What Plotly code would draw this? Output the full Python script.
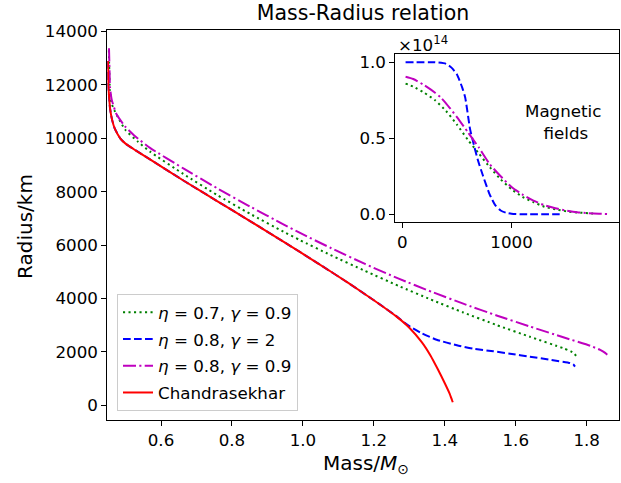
import plotly.graph_objects as go

W, H = 621, 483
OFF = 0  # body margin is removed by the post script

# ---- main chart data: mass (M_sun) vs radius (km) ----
green_mass = [0.453, 0.456, 0.461, 0.470, 0.4985, 0.536, 0.569, 0.663, 0.757, 0.851, 0.945,
              0.992, 1.077, 1.175, 1.27, 1.36, 1.452, 1.546, 1.640, 1.734, 1.755, 1.765, 1.772]
green_radius = [13300, 11800, 11300, 11010, 10330, 9860, 9500, 8663, 7883, 7169, 6500,
                6180, 5630, 5030, 4465, 3960, 3470, 3000, 2560, 2130, 2015, 1930, 1800]

blue_mass = [0.4505, 0.4515, 0.454, 0.4565, 0.462, 0.470, 0.485, 0.500, 0.527, 0.569, 0.663, 0.757,
             0.851, 0.945, 1.040, 1.130, 1.200, 1.230, 1.265, 1.285, 1.302, 1.335, 1.377, 1.434,
             1.480, 1.537, 1.584, 1.640, 1.697, 1.753, 1.762, 1.767]
blue_radius = [12900, 11950, 11500, 11100, 10700, 10350, 10000, 9800, 9560, 9209, 8419, 7658,
               6897, 6126, 5333, 4559, 3929, 3650, 3315, 3100, 2940, 2690, 2450, 2240,
               2116, 2016, 1925, 1815, 1700, 1575, 1530, 1440]

magenta_mass = [0.4534, 0.455, 0.456, 0.461, 0.475, 0.4985, 0.527, 0.569, 0.663, 0.757, 0.851, 0.945,
                0.992, 1.08, 1.175, 1.27, 1.363, 1.452, 1.546, 1.640, 1.734, 1.810, 1.838, 1.852, 1.858]
magenta_radius = [13375, 12500, 11945, 11450, 10890, 10450, 10078, 9642, 8871, 8138, 7442, 6775,
                  6451, 5879, 5290, 4739, 4246, 3801, 3359, 2945, 2541, 2222, 2068, 1956, 1884]

red_mass = [0.4505, 0.4515, 0.454, 0.4565, 0.462, 0.470, 0.485, 0.500, 0.527, 0.569, 0.663, 0.757,
            0.851, 0.945, 1.040, 1.130, 1.200, 1.264, 1.300, 1.335, 1.360, 1.380, 1.400, 1.413,
            1.420, 1.4225]
red_radius = [12900, 11950, 11500, 11100, 10700, 10350, 10000, 9800, 9560, 9209, 8419, 7658,
              6897, 6126, 5333, 4559, 3929, 3315, 2901, 2360, 1850, 1350, 820, 450,
              200, 105]

# ---- inset data: magnetic field (x1e14) ----
green_b_x = [30, 100, 200, 300, 400, 500, 600, 700, 800, 900, 1000, 1100, 1200, 1300, 1400,
             1500, 1600, 1700, 1780]
green_b = [0.86, 0.84, 0.80, 0.75, 0.68, 0.59, 0.49, 0.40, 0.31, 0.23, 0.165, 0.115, 0.08, 0.05,
           0.033, 0.02, 0.012, 0.007, 0.004]

blue_b_x = [30, 300, 400, 450, 500, 550, 575, 620, 640, 690, 740, 800, 850, 900, 950, 1000,
            1100, 1440]
blue_b = [1.0, 1.0, 0.99, 0.965, 0.92, 0.83, 0.77, 0.56, 0.5, 0.36, 0.25, 0.13, 0.06, 0.025,
          0.01, 0.003, 0.0, 0.0]

magenta_b_x = [30, 100, 200, 300, 350, 400, 500, 600, 650, 700, 800, 900, 1000, 1100, 1200,
               1300, 1400, 1500, 1600, 1700, 1800, 1890]
magenta_b = [0.905, 0.89, 0.85, 0.80, 0.77, 0.73, 0.64, 0.54, 0.49, 0.44, 0.33, 0.25, 0.18,
             0.13, 0.09, 0.06, 0.04, 0.025, 0.014, 0.008, 0.004, 0.002]

labels = ["<i>η</i> = 0.7, <i>γ</i> = 0.9", "<i>η</i> = 0.8, <i>γ</i> = 2",
          "<i>η</i> = 0.8, <i>γ</i> = 0.9", "Chandrasekhar"]

x_ticks = [0.6, 0.8, 1.0, 1.2, 1.4, 1.6, 1.8]
y_ticks = [0, 2000, 4000, 6000, 8000, 10000, 12000, 14000]
inset_x_ticks = [0, 1000]
inset_y_ticks = [0.0, 0.5, 1.0]

GREEN, BLUE, MAG, RED = "#008000", "#0000ff", "#bf00bf", "#ff0000"
DOT = "2.1px,3.4px"
DASH = "7.7px,3.3px"
DASHDOT = "13px,3.3px,2.1px,3.3px"
LW = 2
FONT = "DejaVu Sans"
FS = 16.7


def px(x):
    return (x - OFF) / W


def py(y):
    return 1 - (y - OFF) / H


fig = go.Figure()
main = [(green_mass, green_radius, GREEN, DOT),
        (blue_mass, blue_radius, BLUE, DASH),
        (magenta_mass, magenta_radius, MAG, DASHDOT),
        (red_mass, red_radius, RED, "solid")]
for i, (xs, ys, c, d) in enumerate(main):
    fig.add_trace(go.Scatter(x=xs, y=ys, mode="lines", name=labels[i], legendgroup=str(i),
                             line=dict(color=c, dash=d, width=LW, shape="spline", smoothing=0.5),
                             xaxis="x", yaxis="y"))

inset = [(green_b_x, green_b, GREEN, DOT), (blue_b_x, blue_b, BLUE, DASH),
         (magenta_b_x, magenta_b, MAG, DASHDOT)]
for xs, ys, c, d in inset:
    fig.add_trace(go.Scatter(x=xs, y=ys, mode="lines", showlegend=False,
                             line=dict(color=c, dash=d, width=LW, shape="spline", smoothing=0.6),
                             xaxis="x2", yaxis="y2"))

axis_common = dict(showline=True, linecolor="black", linewidth=1, mirror=True, ticks="outside",
                   ticklen=5, tickcolor="black", showgrid=False, zeroline=False, automargin=False,
                   tickfont=dict(family=FONT, size=FS, color="black"))

fig.update_layout(
    width=W, height=H, margin=dict(l=0, r=0, t=0, b=0),
    paper_bgcolor="white", plot_bgcolor="white",
    font=dict(family=FONT, color="black"),
    title=dict(text="Mass-Radius relation", x=px(363), xanchor="center", y=py(13),
               yanchor="middle", font=dict(family=FONT, size=20.5, color="black")),
    xaxis=dict(domain=[px(107.3), px(619.3)], range=[0.4486, 1.8919], tickvals=x_ticks,
               tickformat=".1f", anchor="y", **axis_common),
    yaxis=dict(domain=[py(420), py(30)], range=[-560, 14060], tickvals=y_ticks,
               tickformat="d", anchor="x", **axis_common),
    xaxis2=dict(domain=[px(395.3), px(618.7)], range=[-64, 1980], tickvals=inset_x_ticks,
                tickformat="d", anchor="y2", **axis_common),
    yaxis2=dict(domain=[py(222.3), py(54.3)], range=[-0.0526, 1.0526],
                tickvals=inset_y_ticks, tickformat=".1f", anchor="x2", **axis_common),
    legend=dict(x=px(117), y=py(411), xanchor="left", yanchor="bottom",
                bgcolor="rgba(255,255,255,0.8)", bordercolor="#cccccc", borderwidth=1,
                font=dict(family=FONT, size=FS, color="black"), tracegroupgap=2,
                traceorder="grouped"),
    annotations=[
        dict(text="Mass/<i>M</i><sub>⊙</sub>", xref="paper", yref="paper", x=px(366),
             y=py(464), xanchor="center", yanchor="middle", showarrow=False,
             font=dict(family=FONT, size=20, color="black")),
        dict(text="Radius/km", xref="paper", yref="paper", x=px(25), y=py(227),
             xanchor="center", yanchor="middle", showarrow=False, textangle=-90,
             font=dict(family=FONT, size=20, color="black")),
        dict(text="×10<sup>14</sup>", xref="paper", yref="paper", x=px(396), y=py(44),
             xanchor="left", yanchor="middle", showarrow=False,
             font=dict(family=FONT, size=FS, color="black")),
        dict(text="Magnetic<br> fields", xref="x2", yref="y2", x=1470, y=0.61,
             xanchor="center", yanchor="middle", showarrow=False,
             font=dict(family=FONT, size=FS, color="black")),
    ],
)

fig.write_html("out.html", config={"displayModeBar": False},
               post_script="document.body.style.margin='0';")
